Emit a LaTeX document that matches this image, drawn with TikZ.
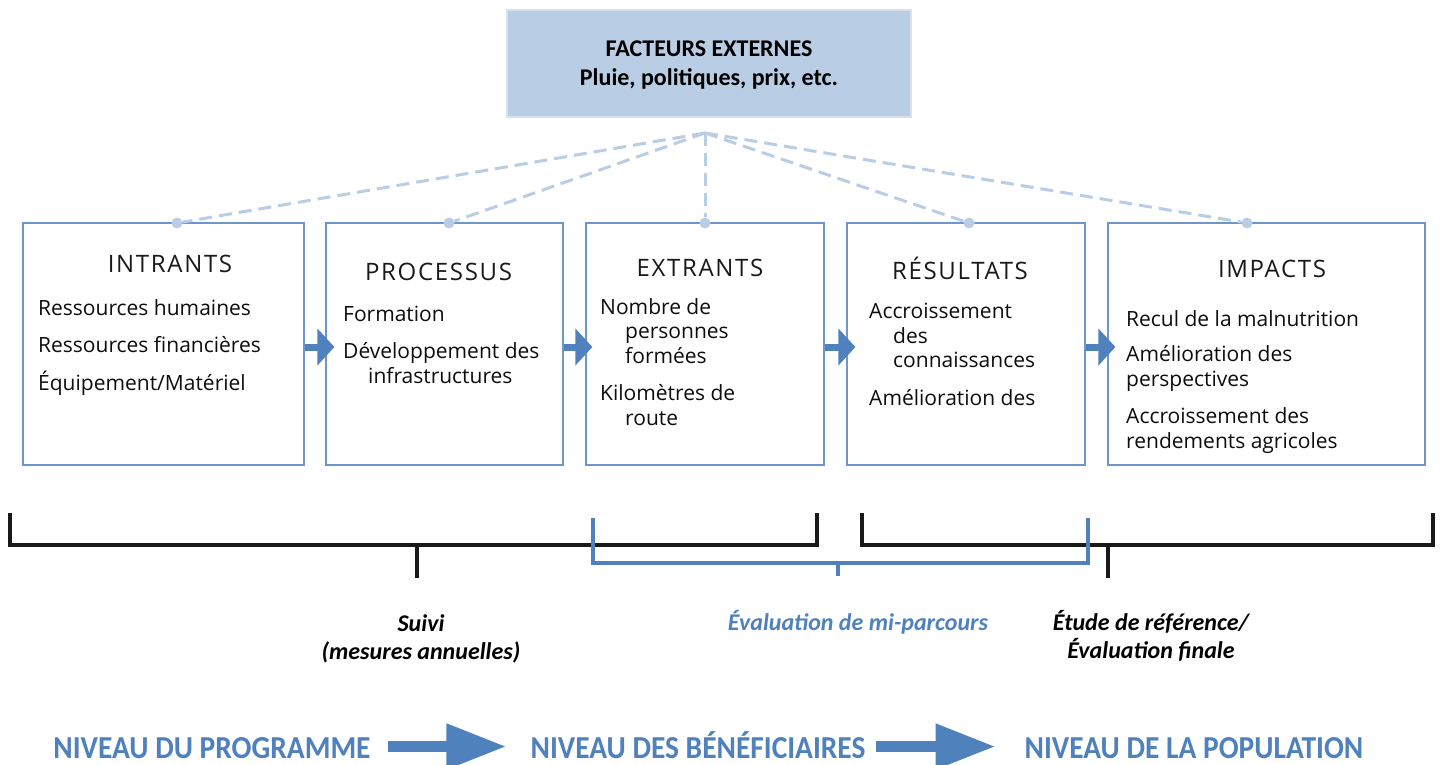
\documentclass[tikz,border=0pt]{standalone}
\usepackage{fontspec}
\setmainfont{Open Sans}
\newfontfamily\calfont{Carlito}
\newfontfamily\condfont[FakeStretch=0.92]{Carlito}
\newfontfamily\headfont[LetterSpace=7]{Open Sans}
\usetikzlibrary{arrows.meta}
\definecolor{fblue}{RGB}{79,129,189}
\definecolor{lblue}{RGB}{185,205,228}
\definecolor{bblue}{RGB}{110,150,200}
\tikzset{
    mytop/.style = {rectangle, draw=lblue!60!white, line width=1.5pt, fill=lblue, minimum width=404pt, minimum height=107pt, align=center, text depth=0pt, font=\calfont\bfseries\fontsize{24}{29}\selectfont, text=black},
    mybox/.style = {rectangle, draw=bblue, line width=1.2pt, minimum height=242pt, inner sep=0pt},
    myhead/.style = {anchor=base, inner sep=0pt, font=\headfont\fontsize{24}{28}\selectfont, text=black!90},
    myitem/.style = {anchor=base west, inner sep=0pt, align=left, font=\fontsize{21}{24.5}\selectfont, text=black!95},
    mydot/.style = {circle, fill=lblue, minimum size=11pt, inner sep=0pt},
    mylabel/.style = {anchor=base, inner sep=0pt, align=center, font=\calfont\bfseries\itshape\fontsize{24}{28}\selectfont, text=black},
    mylevel/.style = {anchor=base, inner sep=0pt, font=\condfont\bfseries\fontsize{32}{36}\selectfont, text=fblue},
    edged/.style = {-, line width=3pt, lblue, dash pattern=on 13pt off 7pt},
    edgef/.style = {-{Triangle[length=17pt,width=36pt]}, line width=7pt, fblue},
    edgeF/.style = {-{Triangle[length=60pt,width=43pt]}, line width=11pt, fblue},
    brackn/.style = {line width=4pt, black!90},
    brackb/.style = {line width=4pt, fblue}
}

\begin{document}
\begin{tikzpicture}[x=1pt,y=-1pt]
\useasboundingbox (0,0) rectangle (1442,764);
\node[mytop] at (709,63.5) (fe) {FACTEURS EXTERNES\\Pluie, politiques, prix, etc.};
%
\node[mybox, minimum width=281pt] at (163.5,344) (in) {};
\node[mybox, minimum width=237pt] at (444.5,344) (pr) {};
\node[mybox, minimum width=238pt] at (705,344) (ex) {};
\node[mybox, minimum width=238pt] at (966,344) (re) {};
\node[mybox, minimum width=317pt] at (1266.5,344) (im) {};
%
\node[myhead] at (170,272) (inh) {INTRANTS};
\node[myhead] at (438.5,280) (prh) {PROCESSUS};
\node[myhead] at (700,276) (exh) {EXTRANTS};
\node[myhead] at (960,279) (reh) {RÉSULTATS};
\node[myhead] at (1272,277) (imh) {IMPACTS};
%
\node[myitem] at (38,390) (ini) {Ressources humaines\\[13pt]Ressources financières\\[13pt]Équipement/Matériel};
\node[myitem] at (343,383) (pri) {Formation\\[13pt]Développement des\\\hspace*{25pt}infrastructures};
\node[myitem] at (600,425) (exi) {Nombre de\\\hspace*{25pt}personnes\\\hspace*{25pt}formées\\[13pt]Kilomètres de\\\hspace*{25pt}route};
\node[myitem] at (869,405) (rei) {Accroissement\\\hspace*{24pt}des\\\hspace*{24pt}connaissances\\[13pt]Amélioration des};
\node[myitem] at (1126,448) (imi) {Recul de la malnutrition\\[11pt]Amélioration des\\perspectives\\[13pt]Accroissement des\\rendements agricoles};
%
\coordinate (apex) at (705,133);
\node[mydot] at (177,223) (d1) {};
\node[mydot] at (449,223) (d2) {};
\node[mydot] at (705,223) (d3) {};
\node[mydot] at (969,223) (d4) {};
\node[mydot] at (1247,223) (d5) {};
\draw[edged] (apex) edge (d1) edge (d2) edge (d3) edge (d4) edge (d5);
%
\draw[edgef] ([yshift=-3pt]in.east) -- ([xshift=9pt,yshift=-3pt]pr.west);
\draw[edgef] ([yshift=-3pt]pr.east) -- ([xshift=7pt,yshift=-3pt]ex.west);
\draw[edgef] ([yshift=-3pt]ex.east) -- ([xshift=9pt,yshift=-3pt]re.west);
\draw[edgef] ([yshift=-3pt]re.east) -- ([xshift=8pt,yshift=-3pt]im.west);
%
\draw[brackn] (10,513) -- (10,545) -- (817,545) -- (817,513) (417,545) -- (417,578);
\draw[brackn] (862,513) -- (862,545) -- (1433,545) -- (1433,513) (1108,545) -- (1108,578);
\draw[brackb] (593,518) -- (593,563) -- (1088,563) -- (1088,518) (838,563) -- (838,576);
%
\node[mylabel] at (421,659) (su) {Suivi\\(mesures annuelles)};
\node[mylabel, text=fblue] at (858,630) (mi) {Évaluation de mi-parcours};
\node[mylabel] at (1151,658) (fi) {Étude de référence/\\Évaluation finale};
%
\node[mylevel] at (212,758) (lv1) {NIVEAU DU PROGRAMME};
\node[mylevel] at (698,758) (lv2) {NIVEAU DES BÉNÉFICIAIRES};
\node[mylevel] at (1194,758) (lv3) {NIVEAU DE LA POPULATION};
\draw[edgeF] ([xshift=17pt,yshift=11.5pt]lv1.base east) -- ([xshift=-24pt,yshift=11.5pt]lv2.base west);
\draw[edgeF] ([xshift=10pt,yshift=11.5pt]lv2.base east) -- ([xshift=-29pt,yshift=11.5pt]lv3.base west);
\end{tikzpicture}
\end{document}
